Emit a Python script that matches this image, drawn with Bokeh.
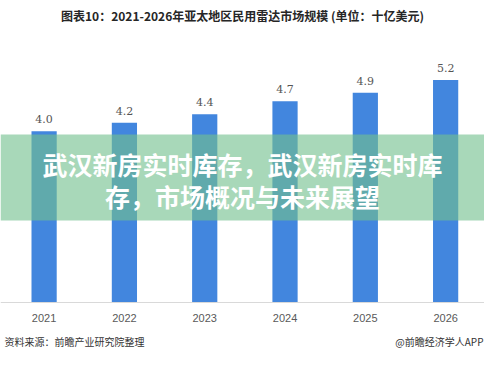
from bokeh.plotting import figure
from bokeh.models import Label, BoxAnnotation, FixedTicker, Range1d, ColumnDataSource
from bokeh.core.properties import value
from bokeh.embed import file_html
from bokeh.resources import INLINE

years = ["2021", "2022", "2023", "2024", "2025", "2026"]
market = [4.0, 4.2, 4.4, 4.7, 4.9, 5.2]
value_labels = ["4.0", "4.2", "4.4", "4.7", "4.9", "5.2"]
title_text = "图表10：2021-2026年亚太地区民用雷达市场规模 (单位：十亿美元)"
overlay_line1 = "武汉新房实时库存，武汉新房实时库"
overlay_line2 = "存，市场概况与未来展望"
source_text = "资料来源：前瞻产业研究院整理"
credit_text = "@前瞻经济学人APP"

idx = list(range(len(years)))
src = ColumnDataSource(dict(x=idx, y=market, lab=value_labels))

W, H = 484, 356
p = figure(width=W, height=H, x_range=Range1d(-0.543, 5.484), y_range=Range1d(-1.276, 7.061),
           output_backend="svg", toolbar_location=None, y_axis_location=None,
           min_border_left=0, min_border_right=0, min_border_top=0, min_border_bottom=0)
p.outline_line_color = None
p.xgrid.visible = False
p.ygrid.visible = False
p.background_fill_color = "white"
p.border_fill_color = "white"

p.vbar(x="x", top="y", bottom=0, width=0.314, source=src, fill_color="#4286DE", line_color=None)
p.text(x="x", y="y", text="lab", source=src, text_align="center", text_baseline="bottom",
       y_offset=-8, text_font=value("DejaVu Serif"), text_font_size="11px", text_color="#555555")

ax = p.xaxis[0]
ax.fixed_location = 0
ax.ticker = FixedTicker(ticks=idx)
ax.major_label_overrides = {i: y for i, y in zip(idx, years)}
ax.axis_line_color = "#D9D9D9"
ax.major_tick_line_color = None
ax.minor_tick_line_color = None
ax.major_label_standoff = 6
ax.major_label_text_font = "Liberation Sans"
ax.major_label_text_font_size = "11px"
ax.major_label_text_color = "#595959"

p.add_layout(BoxAnnotation(bottom=136, top=222, bottom_units="screen", top_units="screen",
                           fill_color=(115, 192, 142), fill_alpha=0.62, line_color=None))

cjk = "Noto Sans CJK SC"
p.add_layout(Label(x=W / 2, y=341, x_units="screen", y_units="screen", text=title_text,
                   text_align="center", text_baseline="middle", text_font=cjk,
                   text_font_size="12px", text_font_style="bold", text_color="#262626"))
p.add_layout(Label(x=W / 2, y=193, x_units="screen", y_units="screen", text=overlay_line1,
                   text_align="center", text_baseline="middle", text_font=cjk,
                   text_font_size="25px", text_font_style="bold", text_color="white"))
p.add_layout(Label(x=W / 2, y=161, x_units="screen", y_units="screen", text=overlay_line2,
                   text_align="center", text_baseline="middle", text_font=cjk,
                   text_font_size="25px", text_font_style="bold", text_color="white"))
p.add_layout(Label(x=4, y=15, x_units="screen", y_units="screen", text=source_text,
                   text_align="left", text_baseline="middle", text_font=cjk,
                   text_font_size="10px", text_color="#333333"))
p.add_layout(Label(x=W - 1, y=15, x_units="screen", y_units="screen", text=credit_text,
                   text_align="right", text_baseline="middle", text_font=cjk,
                   text_font_size="10px", text_color="#333333"))

open("out.html", "w").write(file_html(p, INLINE))
